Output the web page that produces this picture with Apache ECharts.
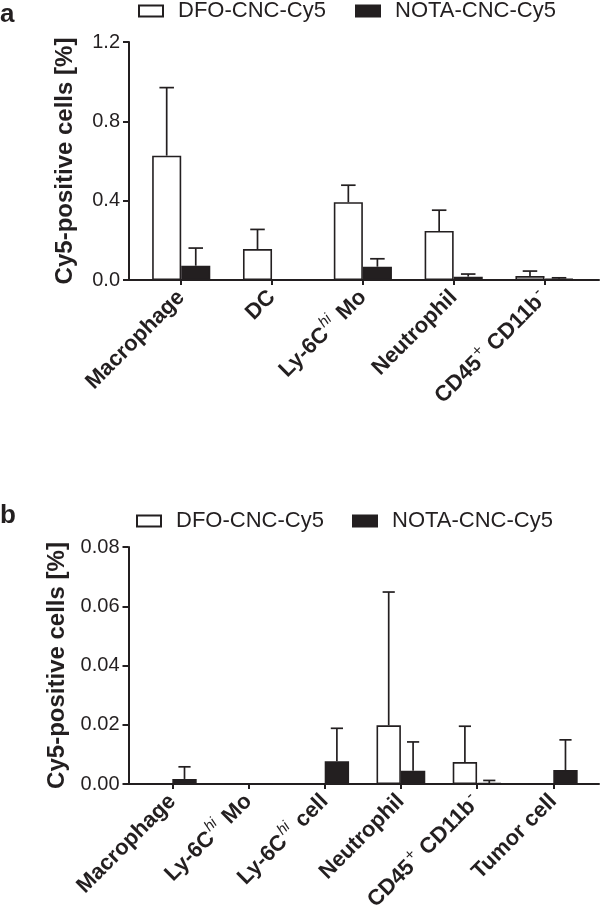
<!DOCTYPE html>
<html><head><meta charset="utf-8">
<script src="https://cdn.jsdelivr.net/npm/echarts@6/dist/echarts.min.js"></script>
<style>html,body{margin:0;padding:0;background:#fff}#c{width:600px;height:916px}</style>
</head><body><div id="c"></div>
<script>
// ---------- data ----------
const seriesNames = ['DFO-CNC-Cy5', 'NOTA-CNC-Cy5'];
const yTitle = 'Cy5-positive cells [%]';

const catsA = ['Macrophage', 'DC', 'Ly-6C^hi Mo', 'Neutrophil', 'CD45^+ CD11b^-'];
const dfoA = [0.627, 0.156, 0.392, 0.247, 0.020];
const dfoErrTopA = [0.970, 0.255, 0.478, 0.352, 0.045];
const notaA = [0.072, 0, 0.067, 0.017, 0.006];
const notaErrTopA = [0.161, 0, 0.107, 0.030, 0.011];
const yMaxA = 1.2, yStepA = 0.4;

const catsB = ['Macrophage', 'Ly-6C^hi Mo', 'Ly-6C^hi cell', 'Neutrophil', 'CD45^+ CD11b^-', 'Tumor cell'];
const dfoB = [0, 0, 0, 0.0198, 0.0074, 0];
const dfoErrTopB = [0, 0, 0, 0.0648, 0.0195, 0];
const notaB = [0.0017, 0, 0.0077, 0.0045, 0.0003, 0.0047];
const notaErrTopB = [0.0058, 0, 0.0188, 0.0142, 0.0012, 0.0149];
const yMaxB = 0.08, yStepB = 0.02;

// ---------- styles ----------
const INK = '#231f20';
const FONT = '"Liberation Sans", Arial, Helvetica, sans-serif';
const BAR_FRAC = 0.32;

function toRich(s) {
  return s.split(/(\^\S+)/).filter(t => t.length).map(t => {
    if (t[0] === '^') {
      const v = t.slice(1);
      return /[a-z]/i.test(v) ? '{supi|' + v + '}' : '{sup|' + v + '}';
    }
    return '{b|' + t + '}';
  }).join('');
}
const richStyles = {
  b: { fontSize: 22, fontWeight: 'bold', color: INK, fontFamily: FONT, lineHeight: 30 },
  supi: { fontSize: 15, fontStyle: 'italic', fontWeight: 'normal', color: INK, fontFamily: FONT, verticalAlign: 'top', lineHeight: 15, padding: [0, 2, 0, 1] },
  sup: { fontSize: 16, fontWeight: 'normal', color: INK, fontFamily: FONT, verticalAlign: 'top', lineHeight: 15, padding: [0, 1, 0, 1] }
};

function pts(vals) { return vals.map((v, i) => [i, v]); }
function errPts(vals, tops) { return vals.map((v, i) => [i, v, tops[i]]); }

function errRender(side) {
  return function (params, api) {
    const x = api.value(0), v = api.value(1), t = api.value(2);
    if (!(t > v)) return null;
    const unit = api.size([1, 0])[0];
    const bw = unit * BAR_FRAC;
    const cx = api.coord([x, 0])[0] + side * bw / 2;
    const y0 = api.coord([x, v])[1];
    const y1 = api.coord([x, t])[1];
    const hw = bw / 4;
    const st = { stroke: INK, lineWidth: 1.7 };
    return {
      type: 'group',
      children: [
        { type: 'line', shape: { x1: cx, y1: y0, x2: cx, y2: y1 }, style: st },
        { type: 'line', shape: { x1: cx - hw, y1: y1, x2: cx + hw, y2: y1 }, style: st }
      ]
    };
  };
}

function xAxisFor(cats, gridIndex) {
  const idx = cats.map((c, i) => i);
  return {
    type: 'value', gridIndex: gridIndex,
    min: -0.575, max: cats.length - 1 + 0.6,
    splitLine: { show: false },
    axisLine: { show: true, onZero: false, lineStyle: { color: INK, width: 2 } },
    axisTick: { show: true, customValues: idx, length: 5, lineStyle: { color: INK, width: 2 } },
    axisLabel: {
      customValues: idx, rotate: 45, margin: 14,
      formatter: v => toRich(cats[Math.round(v)]),
      rich: richStyles
    }
  };
}
function yAxisFor(max, step, dec, gridIndex) {
  return {
    type: 'value', gridIndex: gridIndex, min: 0, max: max, interval: step,
    name: yTitle, nameLocation: 'middle', nameGap: 52,
    nameTextStyle: { fontSize: 24, fontWeight: 'bold', color: INK, fontFamily: FONT },
    splitLine: { show: false },
    axisLine: { show: true, onZero: false, lineStyle: { color: INK, width: 2 } },
    axisTick: { show: true, length: 6, lineStyle: { color: INK, width: 2 } },
    axisLabel: { fontSize: 20, color: INK, fontFamily: FONT, margin: 9, formatter: v => v.toFixed(dec) }
  };
}

const whiteStyle = { color: '#ffffff', borderColor: INK, borderWidth: 1.6 };
const blackStyle = { color: INK, borderColor: INK, borderWidth: 1.6 };

function barSeries(name, vals, style, axisIdx) {
  return {
    type: 'bar', name: name, xAxisIndex: axisIdx, yAxisIndex: axisIdx,
    data: pts(vals), barWidth: (BAR_FRAC * 100) + '%', barGap: '0%',
    itemStyle: style, emphasis: { disabled: true }, silent: true
  };
}
function errSeries(name, vals, tops, side, axisIdx) {
  return {
    type: 'custom', name: name + ' err', xAxisIndex: axisIdx, yAxisIndex: axisIdx,
    data: errPts(vals, tops), renderItem: errRender(side), z: 3, silent: true
  };
}

const legendCommon = {
  itemWidth: 24, itemHeight: 11, padding: 0, icon: 'rect', selectedMode: false,
  textStyle: { fontSize: 22, color: INK, fontFamily: FONT, padding: [0, 0, 0, 10] }
};

const option = {
  animation: false,
  backgroundColor: '#ffffff',
  textStyle: { fontFamily: FONT },
  title: [
    { text: 'a', left: 0, top: 2, padding: 0, textStyle: { fontSize: 26, fontWeight: 'bold', color: INK, fontFamily: FONT } },
    { text: 'b', left: 0, top: 503, padding: 0, textStyle: { fontSize: 26, fontWeight: 'bold', color: INK, fontFamily: FONT } }
  ],
  legend: [
    Object.assign({ data: [seriesNames[0]], left: 138, top: 0 }, legendCommon),
    Object.assign({ data: [seriesNames[1]], left: 355, top: 0 }, legendCommon),
    Object.assign({ data: [seriesNames[0]], left: 136, top: 510 }, legendCommon),
    Object.assign({ data: [seriesNames[1]], left: 352, top: 510 }, legendCommon)
  ],
  grid: [
    { left: 129, right: 1, top: 42, bottom: 916 - 280 },
    { left: 128.5, right: 1, top: 547, bottom: 916 - 784 }
  ],
  xAxis: [xAxisFor(catsA, 0), xAxisFor(catsB, 1)],
  yAxis: [yAxisFor(yMaxA, yStepA, 1, 0), yAxisFor(yMaxB, yStepB, 2, 1)],
  series: [
    barSeries(seriesNames[0], dfoA, whiteStyle, 0),
    barSeries(seriesNames[1], notaA, blackStyle, 0),
    errSeries(seriesNames[0], dfoA, dfoErrTopA, -1, 0),
    errSeries(seriesNames[1], notaA, notaErrTopA, 1, 0),
    barSeries(seriesNames[0], dfoB, whiteStyle, 1),
    barSeries(seriesNames[1], notaB, blackStyle, 1),
    errSeries(seriesNames[0], dfoB, dfoErrTopB, -1, 1),
    errSeries(seriesNames[1], notaB, notaErrTopB, 1, 1)
  ]
};

const chart = echarts.init(document.getElementById('c'), null, { renderer: 'canvas' });
chart.setOption(option);
</script>
</body></html>
